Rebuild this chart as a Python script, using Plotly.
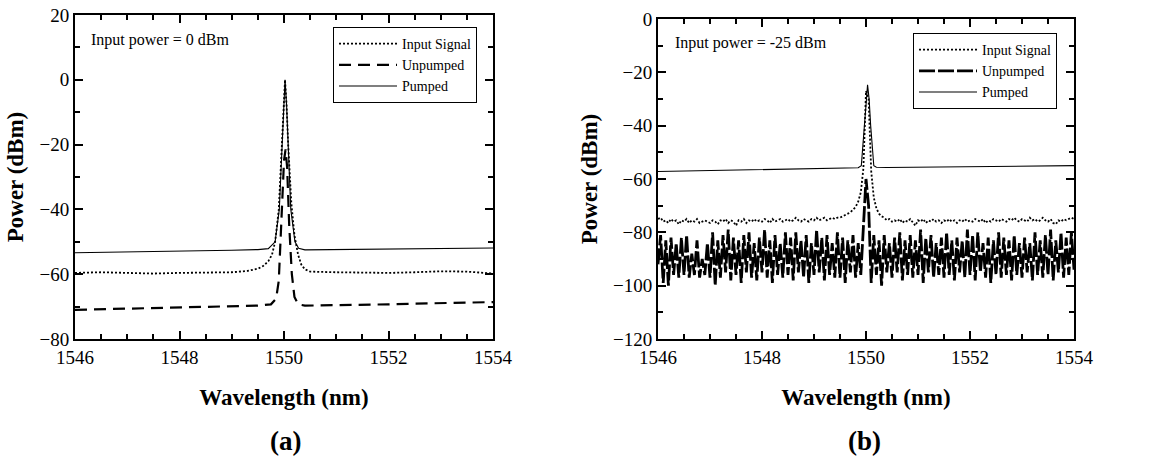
import numpy as np
import plotly.graph_objects as go

# ---------------- (a) Input power = 0 dBm ----------------
wl_a_signal = [1546.0, 1546.5, 1547.0, 1547.5, 1548.0, 1548.5, 1549.0, 1549.3, 1549.5, 1549.6,
               1549.7, 1549.77, 1549.83, 1549.9, 1549.965, 1549.99, 1550.02, 1550.05, 1550.08,
               1550.14, 1550.2, 1550.27, 1550.33, 1550.4, 1550.5, 1551.0, 1551.5, 1552.0,
               1552.5, 1553.0, 1553.5, 1554.0]
pw_a_signal = [-59.6, -59.4, -59.6, -59.8, -59.6, -59.6, -59.4, -59.0, -58.3, -57.5,
               -56.0, -54.0, -50.0, -40.0, -20.0, -8.0, 0.0, -8.0, -20.0,
               -38.0, -48.0, -54.0, -57.0, -58.5, -59.2, -59.4, -59.6, -59.6,
               -59.4, -59.1, -59.2, -59.8]

wl_a_unpumped = [1546.0, 1546.5, 1547.0, 1547.5, 1548.0, 1548.5, 1549.0, 1549.5, 1549.75, 1549.85,
                 1549.9, 1549.95, 1550.0, 1550.03, 1550.06, 1550.1, 1550.15, 1550.2, 1550.27,
                 1550.4, 1551.0, 1551.5, 1552.0, 1552.5, 1553.0, 1553.5, 1554.0]
pw_a_unpumped = [-71.0, -70.8, -70.7, -70.6, -70.4, -70.1, -69.9, -69.7, -69.3, -67.5,
                 -62.0, -45.0, -25.0, -21.5, -27.0, -45.0, -60.0, -67.0, -69.3,
                 -69.7, -69.6, -69.5, -69.3, -69.1, -69.0, -68.7, -68.6]

wl_a_pumped = [1546.0, 1547.0, 1548.0, 1549.0, 1549.5, 1549.7, 1549.83, 1549.91, 1549.965,
               1549.99, 1550.02, 1550.05, 1550.075, 1550.13, 1550.21, 1550.28, 1550.4,
               1551.0, 1552.0, 1553.0, 1554.0]
pw_a_pumped = [-53.4, -53.2, -52.9, -52.6, -52.4, -52.1, -50.0, -40.0, -20.0,
               -8.0, 0.0, -8.0, -20.0, -40.0, -50.0, -52.0, -52.5,
               -52.4, -52.2, -52.0, -51.9]

# ---------------- (b) Input power = -25 dBm ----------------
wl_b_grid = np.round(np.arange(1546.0, 1554.0001, 0.05), 2)

pw_b_signal = [
    -75, -74.5, -76, -75.5, -76.5, -75, -76, -75.5, -77, -75.5,
    -76, -75, -76.5, -75.5, -76, -75, -76.5, -76, -75.5, -76,
    -76.5, -75.5, -76, -77, -75.5, -76, -75, -76.5, -75.5, -76,
    -77.5, -75.5, -76, -75, -76.5, -75.5, -76, -75, -76, -75.5,
    -76, -75, -75.5, -76.5, -75, -76, -75.5, -75, -76, -75.5,
    -75, -76, -75.5, -74.5, -75.5, -76, -75, -75.5, -76, -75,
    -75.5, -74.5, -75.5, -75, -74.5, -75.5, -75, -74.5, -75, -74.5,
    -74.5, -74, -73.5, -73, -72.5, -71.5, -70.5, -68.5, -65, -56,
    -27,
    -30, -57, -67, -71, -73, -74, -74.5, -75.5, -75,
    -76, -75.5, -76, -75, -76.5, -75.5, -76, -75, -76.5, -77.5,
    -75.5, -76, -75, -76.5, -75.5, -76, -75, -76, -75.5, -76.5,
    -75.5, -76, -75, -76, -75.5, -76.5, -75.5, -76, -75, -76,
    -75.5, -76, -75, -75.5, -76, -75, -76.5, -75.5, -76, -75,
    -75.5, -76, -75, -75.5, -76, -75, -75.5, -74.5, -75.5, -76,
    -75, -75.5, -76, -74.5, -75.5, -75, -76, -75.5, -74.5, -75.5,
    -76, -75, -76.5, -77, -75.5, -76, -75, -75.5, -75, -74.5,
    -75]

pw_b_unpumped = [
    -92, -81, -99, -83, -100, -82, -96, -84, -97, -82,
    -96, -81, -97, -88, -96, -83, -97, -90, -96, -84,
    -97, -80, -100, -83, -97, -81, -95, -79, -98, -82,
    -96, -83, -99, -81, -95, -80, -97, -84, -98, -82,
    -95, -79, -97, -83, -99, -81, -96, -84, -97, -80,
    -96, -82, -98, -80, -95, -83, -97, -81, -99, -84,
    -96, -79, -95, -82, -98, -81, -96, -84, -97, -80,
    -97, -82, -99, -83, -95, -81, -97, -84, -96, -78,
    -60,
    -70, -99, -81, -96, -83, -100, -81, -95, -84,
    -97, -82, -95, -80, -98, -83, -96, -81, -97, -83,
    -96, -79, -99, -82, -95, -81, -97, -84, -96, -82,
    -97, -80, -96, -83, -98, -82, -95, -83, -97, -79,
    -96, -81, -98, -80, -95, -84, -97, -82, -99, -83,
    -96, -80, -97, -82, -96, -83, -98, -81, -96, -84,
    -97, -82, -95, -84, -98, -80, -96, -83, -97, -81,
    -96, -79, -98, -83, -95, -80, -97, -82, -96, -80,
    -94]

wl_b_pumped = [1546.0, 1547.0, 1548.0, 1549.0, 1549.7, 1549.85, 1549.91, 1549.97, 1550.0,
               1550.03, 1550.06, 1550.09, 1550.15, 1550.2, 1550.4, 1551.0, 1552.0, 1553.0, 1554.0]
pw_b_pumped = [-57.2, -56.9, -56.6, -56.3, -56.1, -55.8, -55.0, -40.0, -30.0,
               -24.7, -30.0, -40.0, -55.0, -55.6, -55.7, -55.6, -55.4, -55.2, -55.0]

series_names = ["Input Signal", "Unpumped", "Pumped"]
annot_a = "Input power = 0 dBm"
annot_b = "Input power = -25 dBm"

W, H = 1149, 456
FONT = "Liberation Serif"

fig = go.Figure()

sig_line = dict(color="black", width=1.8, dash="2px,2px")
unp_line = dict(color="black", width=2.2, dash="12px,7px")
unp_line_b = dict(color="black", width=2.8, dash="16px,3px")
pmp_line = dict(color="black", width=1.1)

# panel (a)
fig.add_trace(go.Scatter(x=wl_a_signal, y=pw_a_signal, mode="lines", name=series_names[0],
                         line=sig_line, xaxis="x", yaxis="y", legend="legend"))
fig.add_trace(go.Scatter(x=wl_a_unpumped, y=pw_a_unpumped, mode="lines", name=series_names[1],
                         line=unp_line, xaxis="x", yaxis="y", legend="legend"))
fig.add_trace(go.Scatter(x=wl_a_pumped, y=pw_a_pumped, mode="lines", name=series_names[2],
                         line=pmp_line, xaxis="x", yaxis="y", legend="legend"))
# panel (b)
fig.add_trace(go.Scatter(x=wl_b_grid, y=pw_b_signal, mode="lines", name=series_names[0],
                         line=sig_line, xaxis="x2", yaxis="y2", legend="legend2"))
fig.add_trace(go.Scatter(x=wl_b_grid, y=pw_b_unpumped, mode="lines", name=series_names[1],
                         line=unp_line_b, xaxis="x2", yaxis="y2", legend="legend2"))
fig.add_trace(go.Scatter(x=wl_b_pumped, y=pw_b_pumped, mode="lines", name=series_names[2],
                         line=pmp_line, xaxis="x2", yaxis="y2", legend="legend2"))


def px_x(p):
    return p / W


def px_y(p):
    return 1 - p / H


tickfont = dict(family=FONT, size=19, color="black")
titlefont = dict(family=FONT, size=23, color="black", weight="bold")


def xaxis_cfg(dom, anchor):
    return dict(domain=dom, anchor=anchor, range=[1546, 1554], tick0=1546, dtick=2,
                ticks="inside", ticklen=8, tickwidth=1.8, tickcolor="black",
                minor=dict(ticks="inside", dtick=0.5, ticklen=5, tickwidth=1.5, tickcolor="black"),
                showline=True, linewidth=2, linecolor="black", mirror="allticks",
                showgrid=False, zeroline=False, tickfont=tickfont, automargin=False,
                ticklabeloverflow="allow",
                title=dict(text="Wavelength (nm)", font=titlefont, standoff=22))


def yaxis_cfg(dom, anchor, rng, standoff):
    return dict(domain=dom, anchor=anchor, range=rng, dtick=20,
                ticks="inside", ticklen=8, tickwidth=1.8, tickcolor="black",
                minor=dict(ticks="inside", dtick=10, ticklen=5, tickwidth=1.5, tickcolor="black"),
                showline=True, linewidth=2, linecolor="black", mirror="allticks",
                showgrid=False, zeroline=False, tickfont=tickfont, automargin=False,
                ticklabeloverflow="allow",
                title=dict(text="Power (dBm)", font=titlefont, standoff=standoff))


legend_common = dict(bgcolor="white", bordercolor="black", borderwidth=1,
                     font=dict(family=FONT, size=14, color="black"),
                     xanchor="right", yanchor="top", tracegroupgap=0, itemwidth=58)

fig.update_layout(
    width=W, height=H,
    margin=dict(l=0, r=0, t=0, b=0, autoexpand=False),
    paper_bgcolor="white", plot_bgcolor="white",
    font=dict(family=FONT, color="black"),
    xaxis=xaxis_cfg([px_x(75), px_x(493)], "y"),
    yaxis=yaxis_cfg([px_y(339), px_y(15)], "x", [-80, 20], 9),
    xaxis2=xaxis_cfg([px_x(658), px_x(1074)], "y2"),
    yaxis2=yaxis_cfg([px_y(339), px_y(19)], "x2", [-120, 0], 9),
    legend=dict(x=px_x(477), y=px_y(27), **legend_common),
    legend2=dict(x=px_x(1057), y=px_y(33), **legend_common),
    showlegend=True,
    annotations=[
        dict(text=annot_a, xref="paper", yref="paper", x=px_x(89), y=px_y(40),
             xanchor="left", yanchor="middle", showarrow=False,
             font=dict(family=FONT, size=16, color="black")),
        dict(text=annot_b, xref="paper", yref="paper", x=px_x(673), y=px_y(43),
             xanchor="left", yanchor="middle", showarrow=False,
             font=dict(family=FONT, size=16, color="black")),
        dict(text="(a)", xref="paper", yref="paper", x=px_x(285), y=px_y(441),
             xanchor="center", yanchor="middle", showarrow=False,
             font=dict(family=FONT, size=27, color="black", weight="bold")),
        dict(text="(b)", xref="paper", yref="paper", x=px_x(865), y=px_y(441),
             xanchor="center", yanchor="middle", showarrow=False,
             font=dict(family=FONT, size=27, color="black", weight="bold")),
    ],
)

# remove the default page margin so the figure sits at the top-left corner
fig.write_html("out.html", config={"displayModeBar": False},
               post_script="document.body.style.margin='0';")
